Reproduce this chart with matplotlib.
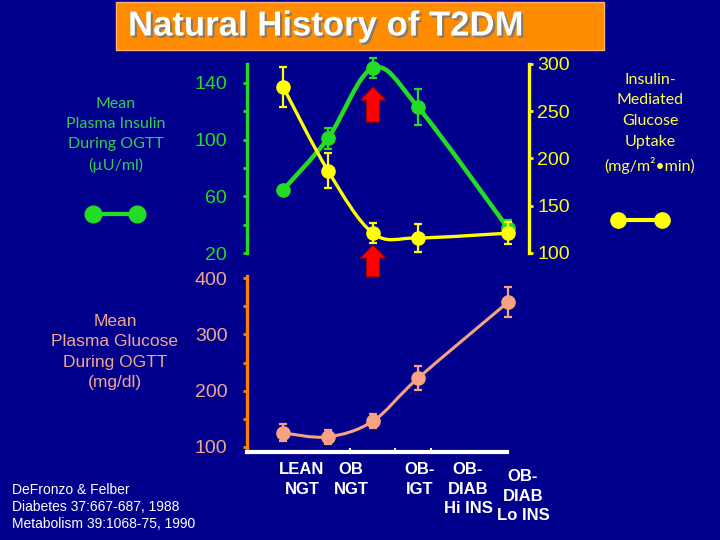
#!/usr/bin/env python3

from matplotlib.lines import Line2D
from matplotlib.patches import FancyArrow, PathPatch, Rectangle
from matplotlib.path import Path
from matplotlib.patheffects import withSimplePatchShadow
from matplotlib.pyplot import close, figure, savefig
from matplotlib.ticker import MultipleLocator

GROUPS = [
    "LEAN\nNGT",
    "OB\nNGT",
    "OB-\nIGT",
    "OB-\nDIAB\nHi INS",
    "OB-\nDIAB\nLo INS",
]
INSULIN = [64.5, 101, 150.5, 123, 37.5]
INSULIN_ERR = [3, 7.5, 7, 13, 6]
UPTAKE = [276, 187, 121, 116, 121]
UPTAKE_ERR = [21, 18.5, 10.5, 15, 11.5]
GLUCOSE = [125, 118, 146, 222, 357]
GLUCOSE_ERR = [15, 13, 13, 21, 27]
INSULIN_TICKS = [20, 60, 100, 140]
UPTAKE_TICKS = [100, 150, 200, 250, 300]
GLUCOSE_TICKS = [100, 200, 300, 400]

BG = "#00008C"
GREEN = "#22DD22"
GREEN_TEXT = "#33CC55"
YELLOW = "#FFFF00"
SALMON = "#F7A282"
SALMON_TEXT = "#F2A690"
ORANGE = "#FF8000"
SANS = ["Liberation Sans", "DejaVu Sans"]
SOFT = ["Lato", "DejaVu Sans"]


def fx(px):
    return px / 720


def fy(py):
    return 1 - py / 540


def smooth_path(xs, ys):
    pts = list(zip(xs, ys))
    verts = [pts[0]]
    codes = [Path.MOVETO]
    for i in range(len(pts) - 1):
        p0 = pts[max(i - 1, 0)]
        p1 = pts[i]
        p2 = pts[i + 1]
        p3 = pts[min(i + 2, len(pts) - 1)]
        c1 = (p1[0] + (p2[0] - p0[0]) / 6, p1[1] + (p2[1] - p0[1]) / 6)
        c2 = (p2[0] - (p3[0] - p1[0]) / 6, p2[1] - (p3[1] - p1[1]) / 6)
        verts += [c1, c2, p2]
        codes += [Path.CURVE4] * 3
    return Path(verts, codes)


def draw_series(ax, xs, ys, err, color, lw):
    ax.add_patch(PathPatch(smooth_path(xs, ys), fill=False, edgecolor=color,
                           linewidth=lw, zorder=2, clip_on=False))
    ax.errorbar(xs, ys, yerr=err, fmt="none", ecolor=color, elinewidth=1.6,
                capsize=3, capthick=1.6, zorder=2, clip_on=False)
    ax.plot(xs, ys, "o", color=color, markersize=9.5, zorder=3,
            clip_on=False)


def main():
    fig = figure(figsize=(7.2, 5.4), dpi=100, facecolor=BG)
    xs = [0, 1, 2, 3, 5]

    # title box
    fig.add_artist(Rectangle((fx(116), fy(50)), fx(488), 48 / 540,
                             transform=fig.transFigure, facecolor="#FF8C00",
                             edgecolor="#FFB070", linewidth=1))
    fig.text(fx(128), fy(26), "Natural History of T2DM", color="white",
             fontsize=25, fontweight="bold", family=SANS, va="center",
             path_effects=[withSimplePatchShadow(offset=(1.5, -1.5),
                                                 shadow_rgbFace="#777777",
                                                 alpha=0.9)])

    # top panel: insulin + glucose uptake
    ax = fig.add_axes([fx(247), fy(253), 282 / 720, 189 / 540])
    ax.set_facecolor("none")
    ax.set_xlim(-0.8, 5.467)
    ax.set_ylim(20, 153.4)
    for side in ["top", "right", "bottom"]:
        ax.spines[side].set_visible(False)
    ax.spines["left"].set_color(GREEN)
    ax.spines["left"].set_linewidth(2.4)
    ax.set_xticks([])
    ax.set_yticks(INSULIN_TICKS)
    ax.yaxis.set_minor_locator(MultipleLocator(20))
    ax.tick_params(axis="y", which="both", color=GREEN, length=3, width=2,
                   direction="out", pad=11.5)
    ax.tick_params(axis="y", labelcolor=GREEN, labelsize=14)
    for label in ax.get_yticklabels():
        label.set_family(SANS)
    draw_series(ax, xs, INSULIN, INSULIN_ERR, GREEN, 3.2)

    ax2 = ax.twinx()
    ax2.set_facecolor("none")
    ax2.set_ylim(100, 300)
    for side in ["top", "left", "bottom"]:
        ax2.spines[side].set_visible(False)
    ax2.spines["right"].set_color(YELLOW)
    ax2.spines["right"].set_linewidth(2.4)
    ax2.set_yticks(UPTAKE_TICKS)
    ax2.tick_params(axis="y", color=YELLOW, length=3, width=2,
                    direction="out", pad=3, labelcolor=YELLOW, labelsize=14)
    for label in ax2.get_yticklabels():
        label.set_family(SANS)
    draw_series(ax2, xs, UPTAKE, UPTAKE_ERR, YELLOW, 2.4)

    # red arrows at OB-IGT
    for (tip, base) in [(137.1, 112.4), (25.6, 3.1)]:
        ax.add_patch(FancyArrow(xs[2], base, 0, tip - base, width=0.29,
                                head_width=0.56, head_length=9.2,
                                length_includes_head=True, facecolor="red",
                                edgecolor="#990000", linewidth=0.8,
                                zorder=4, clip_on=False))

    # bottom panel: plasma glucose
    ax3 = fig.add_axes([fx(247), fy(452), 260 / 720, 176 / 540])
    ax3.set_facecolor("none")
    ax3.set_xlim(-0.8, 4.98)
    ax3.set_ylim(91.1, 403.6)
    for side in ["top", "right"]:
        ax3.spines[side].set_visible(False)
    ax3.spines["left"].set_color(ORANGE)
    ax3.spines["left"].set_linewidth(2.4)
    ax3.spines["bottom"].set_color("white")
    ax3.spines["bottom"].set_linewidth(3)
    ax3.set_yticks(GLUCOSE_TICKS)
    ax3.yaxis.set_minor_locator(MultipleLocator(50))
    ax3.tick_params(axis="y", which="both", color=ORANGE, length=3, width=2,
                    direction="out", pad=11)
    ax3.tick_params(axis="y", labelcolor=SALMON_TEXT, labelsize=14)
    for label in ax3.get_yticklabels():
        label.set_family(SANS)
    ax3.set_xticks([1.5, 2.5, 3.3])
    ax3.tick_params(axis="x", color="white", length=3, width=1.5,
                    direction="in", labelbottom=False)
    draw_series(ax3, xs, GLUCOSE, GLUCOSE_ERR, SALMON, 2.2)

    # side labels and legend keys
    fig.text(fx(116), fy(135), "Mean\nPlasma Insulin\nDuring OGTT\n(\u00b5U/ml)",
             color=GREEN_TEXT, fontsize=11.5, family=SOFT, ha="center",
             va="center", multialignment="center", linespacing=1.55)
    fig.text(fx(650), fy(123.5),
             "Insulin-\nMediated\nGlucose\nUptake\n(mg/m\u00b2\u2022min)",
             color="#FFFF44", fontsize=11.5, family=SOFT, ha="center",
             va="center", multialignment="center", linespacing=1.6)
    fig.text(fx(115), fy(352), "Mean\nPlasma Glucose\nDuring OGTT\n(mg/dl)",
             color=SALMON_TEXT, fontsize=12.5, family=SANS, ha="center",
             va="center", multialignment="center", linespacing=1.42)
    fig.add_artist(Line2D([fx(93), fx(137)], [fy(214), fy(214)],
                          transform=fig.transFigure, color=GREEN,
                          linewidth=3, marker="o", markersize=12))
    fig.add_artist(Line2D([fx(618), fx(662)], [fy(220), fy(220)],
                          transform=fig.transFigure, color=YELLOW,
                          linewidth=3, marker="o", markersize=11))

    # group labels under the x axis
    centers = [302, 351, 420, 468, 523]
    tops = [462, 462, 462, 462, 469]
    for (name, cx, top) in zip(GROUPS, centers, tops):
        fig.text(fx(cx), fy(top), name, color="white", fontsize=12,
                 fontweight="bold", family=SANS, ha="center", va="top",
                 multialignment="center", linespacing=1.38)

    fig.text(fx(12), fy(507),
             "DeFronzo & Felber\nDiabetes 37:667-687, 1988\n"
             "Metabolism 39:1068-75, 1990",
             color="white", fontsize=10, family=SANS, ha="left",
             va="center", linespacing=1.3)

    savefig("out.png", dpi=100, facecolor=BG)
    close()


if __name__ == "__main__":
    main()
